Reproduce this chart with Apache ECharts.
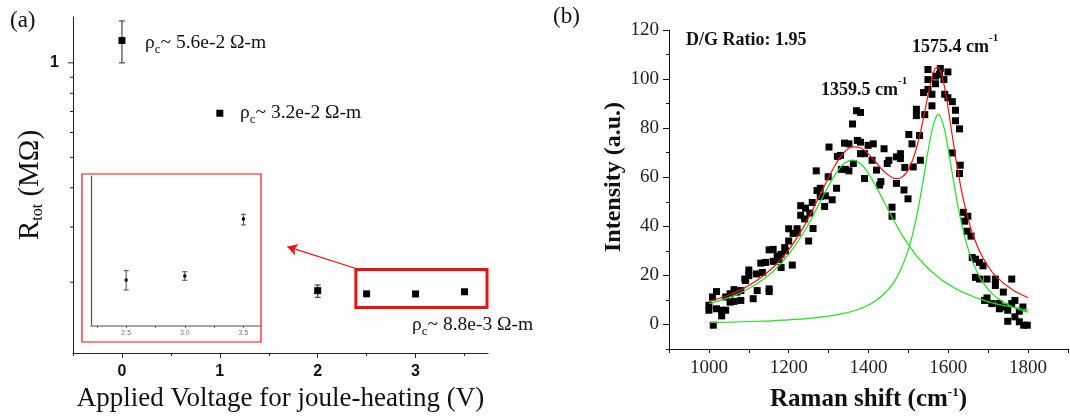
<!DOCTYPE html>
<html><head><meta charset="utf-8">
<script src="https://cdn.jsdelivr.net/npm/echarts@6/dist/echarts.min.js"></script>
<style>html,body{margin:0;padding:0;background:#fff}#c{width:1070px;height:419px}</style>
</head><body><div id="c"></div>
<script>
// ---------- Panel (a) data ----------
const voltage = [0, 1, 2, 2.5, 3, 3.5];
const resistance = [1.178, 0.691, 0.188, 0.1837, 0.1835, 0.1865];
const errVoltage = [0, 2];
const errLow = [1.0, 0.179];
const errHigh = [1.36, 0.196];
const xMajorTicksA = [0, 1, 2, 3];
const xMinorTicksA = [-0.5, 0.5, 1.5, 2.5, 3.5];
const xLabelsA = [0, 1, 2, 3];
const yMajorTicksA = [1];
const yMinorTicksA = [0.2, 0.3, 0.4, 0.5, 0.6, 0.7, 0.8, 0.9];
// inset
const insetVoltage = [2.5, 3.0, 3.5];
const insetR = [0.18283, 0.18317, 0.18792];
const insetLow = [0.18200, 0.18281, 0.18742];
const insetHigh = [0.18361, 0.18352, 0.18831];
const insetTicks = [2.25, 2.5, 2.75, 3, 3.25, 3.5];
const insetLabels = [2.5, 3.0, 3.5];
// ---------- Panel (b) data ----------
const ramanShift = [1000,1000,1009,1011,1019,1019,1032,1032,1042,1042,1053,1053,1063,1063,1070,1080,1080,1090,1092,1100,1100,1111,1119,1121,1130,1134,1142,1151,1151,1151,1161,1161,1171,1176,1181,1181,1190,1192,1200,1200,1209,1211,1221,1221,1230,1230,1240,1242,1250,1253,1259,1261,1269,1271,1279,1279,1290,1292,1299,1301,1309,1320,1322,1330,1332,1340,1342,1351,1351,1360,1362,1370,1372,1380,1380,1380,1390,1390,1399,1409,1412,1420,1428,1431,1439,1447,1451,1459,1459,1470,1470,1480,1480,1489,1491,1499,1501,1509,1512,1520,1520,1528,1530,1538,1541,1549,1549,1549,1559,1559,1568,1568,1578,1580,1589,1591,1599,1599,1610,1610,1618,1618,1628,1630,1628,1638,1641,1649,1647,1657,1660,1668,1668,1678,1678,1687,1691,1697,1697,1709,1718,1718,1727,1728,1738,1741,1749,1749,1759,1759,1767,1767,1778,1778,1787,1789,1798];
const intensity = [7.8,5.8,11.2,-0.3,13.4,6.4,5.8,3.5,5.8,11.2,12.5,9.1,14.2,9.4,13.2,13.8,9.8,18.5,17.9,22.2,19.9,10.5,20.6,13.8,25.0,21.2,25.3,14.5,13.4,30.4,30.6,25.7,27.9,26.5,23.2,28.6,31.3,30.0,34.0,39.0,24.2,37.1,39.0,37.4,48.4,44.5,43.0,47.4,34.0,45.4,49.7,39.1,62.6,54.6,55.5,52.1,48.1,52.4,60.2,72.3,50.8,55.5,68.5,68.9,63.2,73.9,63.2,73.6,62.6,81.7,65.6,87.1,75.0,86.4,74.3,69.6,59.5,69.6,73.0,66.9,73.6,62.9,56.8,58.2,71.6,65.6,66.9,47.8,44.1,68.3,57.5,69.6,67.6,54.8,64.0,51.2,77.4,73.6,64.2,87.7,85.1,77.0,66.9,94.5,85.5,95.8,99.8,103.9,89.1,93.8,98.1,101.2,101.9,104.3,99.8,93.8,92.4,102.9,90.8,69.9,87.3,83.0,79.7,64.9,61.5,45.7,42.1,44.1,38.0,36.0,27.3,19.2,26.6,25.3,18.5,23.9,9.8,18.5,10.8,8.5,18.5,15.9,8.5,6.4,13.2,7.1,1.3,5.8,18.5,8.5,9.8,3.1,1.1,5.4,7.1,-0.3,-0.3];
const fitShift = [1000,1040,1080,1120,1160,1200,1240,1280,1300,1320,1340,1360,1380,1400,1420,1440,1460,1470,1480,1490,1500,1510,1520,1530,1540,1550,1560,1570,1575,1580,1590,1600,1610,1620,1630,1640,1650,1660,1680,1700,1720,1760,1800];
const peakD = [8.5,10.4,13.0,16.6,21.5,28.6,38.2,50.3,56.5,62.0,65.7,67.0,65.5,61.5,55.9,49.7,43.4,40.5,37.6,35.0,32.5,30.3,28.1,26.2,24.4,22.8,21.3,19.9,19.2,18.6,17.4,16.4,15.4,14.5,13.6,12.9,12.2,11.5,10.3,9.3,8.4,7.0,5.9];
const peakG = [0.8,0.9,1.1,1.3,1.5,1.9,2.3,3.0,3.4,3.9,4.6,5.4,6.5,7.9,9.9,12.6,16.4,18.9,22.1,25.9,30.6,36.4,43.5,52.0,61.5,71.3,79.8,84.8,85.5,84.8,79.8,71.3,61.5,52.0,43.5,36.4,30.6,25.9,18.9,14.3,11.1,7.2,5.0];
const fitTotal = [9.3,11.4,14.1,17.9,23.1,30.4,40.5,53.3,59.9,65.9,70.3,72.4,72.0,69.4,65.8,62.2,59.8,59.4,59.7,60.9,63.1,66.7,71.7,78.2,85.9,94.1,101.0,104.7,104.7,103.4,97.2,87.7,76.9,66.4,57.2,49.3,42.8,37.4,29.3,23.6,19.5,14.2,10.9];
const xTicksB = [900,1000,1100,1200,1300,1400,1500,1600,1700,1800,1900];
const xLabelsB = [1000,1200,1400,1600,1800];
const yTicksB = [0,20,40,60,80,100,120];
const yMinorTicksB = [-10,10,30,50,70,90,110];

// ---------- helpers ----------
const SERIF = "'Liberation Serif','Times New Roman',serif";
const SANS = "'Liberation Sans',Arial,sans-serif";
const X_MIN_A = -0.5;
const zip = (a, b) => a.map((v, i) => [v, b[i]]);

function errBars(capHalf, color, lw) {
  return function (params, api) {
    const x = api.value(0), lo = api.value(1), hi = api.value(2);
    const p1 = api.coord([x, lo]), p2 = api.coord([x, hi]);
    const st = { stroke: color, lineWidth: lw };
    return { type: 'group', children: [
      { type: 'line', shape: { x1: p1[0], y1: p1[1], x2: p2[0], y2: p2[1] }, style: st },
      { type: 'line', shape: { x1: p1[0] - capHalf, y1: p1[1], x2: p1[0] + capHalf, y2: p1[1] }, style: st },
      { type: 'line', shape: { x1: p2[0] - capHalf, y1: p2[1], x2: p2[0] + capHalf, y2: p2[1] }, style: st }
    ]};
  };
}
function leftTicks(len, color) {
  return function (params, api) {
    const p = api.coord([api.value(0), api.value(1)]);
    return { type: 'line', shape: { x1: p[0] - len, y1: p[1], x2: p[0], y2: p[1] }, style: { stroke: color, lineWidth: 1 } };
  };
}

const chart = echarts.init(document.getElementById('c'), null, { renderer: 'canvas' });
const option = {
  animation: false,
  grid: [
    { left: 73, top: 17, width: 415, height: 336 },
    { left: 91, top: 176, width: 170, height: 150 },
    { left: 669, top: 30, width: 399, height: 324 }
  ],
  xAxis: [
    { gridIndex: 0, type: 'value', min: X_MIN_A, max: 3.74, position: 'bottom',
      axisLine: { show: true, onZero: false, lineStyle: { color: '#222', width: 1 } },
      axisTick: { show: true, customValues: xMajorTicksA, length: 5, lineStyle: { color: '#222' } },
      axisLabel: { customValues: xLabelsA, fontFamily: SANS, fontWeight: 'bold', fontSize: 16, color: '#111', margin: 11 },
      splitLine: { show: false },
      name: 'Applied Voltage for joule-heating (V)', nameLocation: 'middle', nameGap: 32,
      nameTextStyle: { fontFamily: SERIF, fontSize: 27, color: '#111' } },
    { gridIndex: 0, type: 'value', min: X_MIN_A, max: 3.74, position: 'bottom',
      axisLine: { show: false, onZero: false },
      axisTick: { show: true, customValues: xMinorTicksA, length: 3, lineStyle: { color: '#222' } },
      axisLabel: { show: false }, splitLine: { show: false } },
    { gridIndex: 1, type: 'value', min: 2.2, max: 3.65,
      axisLine: { show: true, onZero: false, lineStyle: { color: '#888', width: 1.5 } },
      axisTick: { show: true, customValues: insetTicks, length: 2, lineStyle: { color: '#666' } },
      axisLabel: { customValues: insetLabels, fontFamily: SANS, fontSize: 7, color: '#777', margin: 4,
        formatter: v => Number(v).toFixed(1) },
      splitLine: { show: false } },
    { gridIndex: 2, type: 'value', min: 900, max: 1900,
      axisLine: { show: true, onZero: false, lineStyle: { color: '#111', width: 1 } },
      axisTick: { show: true, customValues: xTicksB, length: 4, lineStyle: { color: '#111' } },
      axisLabel: { customValues: xLabelsB, fontFamily: SERIF, fontSize: 19, color: '#222', margin: 10,
        formatter: v => String(v) },
      splitLine: { show: false },
      name: 'Raman shift (cm{p|-1})', nameLocation: 'middle', nameGap: 37,
      nameTextStyle: { fontFamily: SERIF, fontSize: 25, fontWeight: 'bold', color: '#111', lineHeight: 28,
        rich: { p: { fontFamily: SERIF, fontSize: 13, fontWeight: 'bold', color: '#111', lineHeight: 12, verticalAlign: 'top' } } } }
  ],
  yAxis: [
    { gridIndex: 0, type: 'log', logBase: 10, min: 0.119, max: 1.4,
      axisLine: { show: true, onZero: false, lineStyle: { color: '#222', width: 1 } },
      axisTick: { show: false },
      axisLabel: { fontFamily: SANS, fontWeight: 'bold', fontSize: 16, color: '#111', margin: 14,
        showMinLabel: false, showMaxLabel: false,
        formatter: v => (Math.abs(v - 1) < 1e-6 ? '1' : '') },
      splitLine: { show: false },
      name: 'R{s|tot} (MΩ)', nameLocation: 'middle', nameRotate: 90, nameGap: 25,
      nameTextStyle: { fontFamily: SERIF, fontSize: 29, color: '#111', lineHeight: 32,
        rich: { s: { fontFamily: SERIF, fontSize: 16, color: '#111', lineHeight: 14, verticalAlign: 'bottom' } } } },
    { gridIndex: 1, type: 'value', min: 0.179, max: 0.1915,
      axisLine: { show: true, onZero: false, lineStyle: { color: '#555', width: 1.2 } },
      axisTick: { show: false }, axisLabel: { show: false }, splitLine: { show: false } },
    { gridIndex: 2, type: 'value', min: -10, max: 120, position: 'left',
      axisLine: { show: true, onZero: false, lineStyle: { color: '#111', width: 1 } },
      axisTick: { show: true, customValues: yTicksB, length: 6, lineStyle: { color: '#111' } },
      axisLabel: { customValues: yTicksB, fontFamily: SERIF, fontSize: 19, color: '#222', margin: 10 },
      splitLine: { show: false } },
    { gridIndex: 2, type: 'value', min: -10, max: 120, position: 'left',
      axisLine: { show: false, onZero: false },
      axisTick: { show: true, customValues: yMinorTicksB, length: 3, lineStyle: { color: '#111' } },
      axisLabel: { show: false }, splitLine: { show: false } }
  ],
  series: [
    { type: 'scatter', xAxisIndex: 0, yAxisIndex: 0, data: zip(voltage, resistance),
      symbol: 'rect', symbolSize: 7, itemStyle: { color: '#000', opacity: 1 }, silent: true, z: 5,
      markArea: { silent: true, itemStyle: { color: 'rgba(0,0,0,0)', borderColor: '#ee1111', borderWidth: 3 },
        data: [[{ coord: [2.39, 0.2196] }, { coord: [3.73, 0.1663] }]] },
      markLine: { silent: true, symbol: ['none', 'arrow'], symbolSize: [9, 10], label: { show: false },
        lineStyle: { color: '#ee1111', width: 1.3, type: 'solid' },
        data: [[{ coord: [2.39, 0.2212] }, { coord: [1.69, 0.2597] }]] } },
    { type: 'custom', xAxisIndex: 0, yAxisIndex: 0, clip: false, silent: true,
      data: errVoltage.map((v, i) => [v, errLow[i], errHigh[i]]), encode: { x: 0, y: [1, 2] },
      renderItem: errBars(3, '#444', 1.2), z: 4 },
    { type: 'custom', xAxisIndex: 0, yAxisIndex: 0, clip: false, silent: true,
      data: yMinorTicksA.map(v => [X_MIN_A, v]), renderItem: leftTicks(3, '#222') },
    { type: 'custom', xAxisIndex: 0, yAxisIndex: 0, clip: false, silent: true,
      data: yMajorTicksA.map(v => [X_MIN_A, v]), renderItem: leftTicks(5, '#222') },
    { type: 'scatter', xAxisIndex: 2, yAxisIndex: 1, data: zip(insetVoltage, insetR),
      symbol: 'rect', symbolSize: 3, itemStyle: { color: '#000', opacity: 1 }, silent: true, z: 5 },
    { type: 'custom', xAxisIndex: 2, yAxisIndex: 1, clip: false, silent: true,
      data: insetVoltage.map((v, i) => [v, insetLow[i], insetHigh[i]]), encode: { x: 0, y: [1, 2] },
      renderItem: errBars(2.5, '#444', 1) },
    { type: 'scatter', xAxisIndex: 3, yAxisIndex: 2, data: zip(ramanShift, intensity),
      symbol: 'rect', symbolSize: 7, itemStyle: { color: '#000', opacity: 1 }, silent: true, z: 2 },
    { type: 'line', xAxisIndex: 3, yAxisIndex: 2, data: zip(fitShift, peakD), smooth: 0.4,
      showSymbol: false, lineStyle: { color: '#1ee01e', width: 1.2 }, silent: true, z: 3 },
    { type: 'line', xAxisIndex: 3, yAxisIndex: 2, data: zip(fitShift, peakG), smooth: 0.4,
      showSymbol: false, lineStyle: { color: '#1ee01e', width: 1.2 }, silent: true, z: 3 },
    { type: 'line', xAxisIndex: 3, yAxisIndex: 2, data: zip(fitShift, fitTotal), smooth: 0.4,
      showSymbol: false, lineStyle: { color: '#f01010', width: 1.2 }, silent: true, z: 4 }
  ],
  graphic: [
    { type: 'rect', shape: { x: 82, y: 174, width: 179, height: 168 },
      style: { fill: 'none', stroke: '#ee1111', lineWidth: 1.2 }, silent: true },
    { type: 'text', x: 10, y: 21, style: { text: '(a)', fontFamily: SERIF, fontSize: 23, fill: '#111',
      textVerticalAlign: 'middle', verticalAlign: 'middle' } },
    { type: 'text', x: 553, y: 17, style: { text: '(b)', fontFamily: SERIF, fontSize: 23, fill: '#111',
      textVerticalAlign: 'middle', verticalAlign: 'middle' } },
    { type: 'text', x: 145, y: 43, style: { text: 'ρ{s|c}~ 5.6e-2 Ω-m', fontFamily: SERIF, fontSize: 19.5, lineHeight: 26, fill: '#111',
      textVerticalAlign: 'middle', verticalAlign: 'middle',
      rich: { s: { fontFamily: SERIF, fontSize: 13, lineHeight: 12, verticalAlign: 'bottom', fill: '#111' } } } },
    { type: 'text', x: 240, y: 113, style: { text: 'ρ{s|c}~ 3.2e-2 Ω-m', fontFamily: SERIF, fontSize: 19.5, lineHeight: 26, fill: '#111',
      textVerticalAlign: 'middle', verticalAlign: 'middle',
      rich: { s: { fontFamily: SERIF, fontSize: 13, lineHeight: 12, verticalAlign: 'bottom', fill: '#111' } } } },
    { type: 'text', x: 412, y: 325, style: { text: 'ρ{s|c}~ 8.8e-3 Ω-m', fontFamily: SERIF, fontSize: 19.5, lineHeight: 26, fill: '#111',
      textVerticalAlign: 'middle', verticalAlign: 'middle',
      rich: { s: { fontFamily: SERIF, fontSize: 13, lineHeight: 12, verticalAlign: 'bottom', fill: '#111' } } } },
    { type: 'text', x: 686, y: 40, style: { text: 'D/G Ratio: 1.95', fontFamily: SERIF, fontSize: 18, fontWeight: 'bold', fill: '#111',
      textVerticalAlign: 'middle', verticalAlign: 'middle' } },
    { type: 'text', x: 912, y: 47, style: { text: '1575.4 cm{p|-1}', fontFamily: SERIF, fontSize: 18, fontWeight: 'bold', lineHeight: 28, fill: '#111',
      textVerticalAlign: 'middle', verticalAlign: 'middle',
      rich: { p: { fontFamily: SERIF, fontSize: 11, fontWeight: 'bold', lineHeight: 12, verticalAlign: 'top', fill: '#111' } } } },
    { type: 'text', x: 821, y: 90, style: { text: '1359.5 cm{p|-1}', fontFamily: SERIF, fontSize: 18, fontWeight: 'bold', lineHeight: 28, fill: '#111',
      textVerticalAlign: 'middle', verticalAlign: 'middle',
      rich: { p: { fontFamily: SERIF, fontSize: 11, fontWeight: 'bold', lineHeight: 12, verticalAlign: 'top', fill: '#111' } } } },
    { type: 'text', x: 614, y: 177, rotation: Math.PI / 2,
      style: { text: 'Intensity (a.u.)', fontFamily: SERIF, fontSize: 24, fontWeight: 'bold', fill: '#111',
        textAlign: 'center', align: 'center', textVerticalAlign: 'middle', verticalAlign: 'middle' } }
  ]
};
chart.setOption(option);
</script>
</body></html>
